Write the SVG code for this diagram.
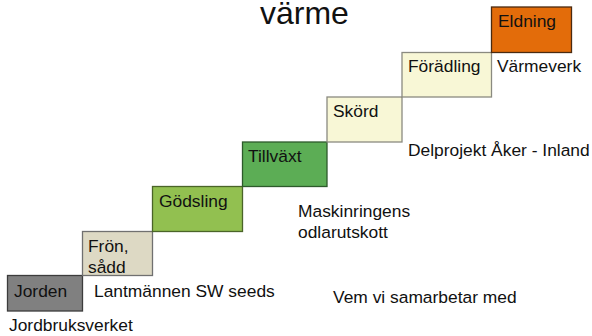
<svg xmlns="http://www.w3.org/2000/svg" width="592" height="336" viewBox="0 0 592 336">
<style>
text{font-family:"Liberation Sans",Arial,sans-serif;font-size:17.4px;fill:#111}
.box{stroke-width:1.3}
.title{font-size:32px}
</style>
<rect width="592" height="336" fill="#fff"/>
<text class="title" x="260" y="23.5">värme</text>
<g id="jorden"><rect class="box" x="7.5" y="275.5" width="75" height="35.5" fill="#808080" stroke="#3c3c3c"/><text x="14" y="297">Jorden</text></g>
<g id="fron"><rect class="box" x="82.5" y="231.5" width="70" height="44" fill="#DDD9C4" stroke="#707070"/><text x="88" y="252">Frön,</text><text x="88" y="272.5">sådd</text></g>
<g id="godsling"><rect class="box" x="152.5" y="186.5" width="90" height="45" fill="#92C050" stroke="#4a6428"/><text x="159" y="207">Gödsling</text></g>
<g id="tillvaxt"><rect class="box" x="242.5" y="142" width="84.5" height="44.5" fill="#5CAD55" stroke="#2d5a2b"/><text x="248" y="161.5">Tillväxt</text></g>
<g id="skord"><rect class="box" x="327" y="97" width="75" height="45" fill="#F8F7D6" stroke="#8a8a80"/><text x="333" y="116.5">Skörd</text></g>
<g id="foradling"><rect class="box" x="402" y="52.5" width="89.5" height="44.5" fill="#F8F7D6" stroke="#8a8a80"/><text x="408" y="72">Förädling</text></g>
<g id="eldning"><rect class="box" x="491.5" y="7" width="80" height="45.5" fill="#E36C0A" stroke="#4a2a10"/><text x="498" y="27">Eldning</text></g>
<g id="labels">
<text x="497" y="72">Värmeverk</text>
<text x="408" y="156">Delprojekt Åker - Inland</text>
<text x="298" y="217">Maskinringens</text>
<text x="298" y="238">odlarutskott</text>
<text x="94" y="297">Lantmännen SW seeds</text>
<text x="333" y="302.5">Vem vi samarbetar med</text>
<text x="9" y="331">Jordbruksverket</text>
</g>
<g id="connectors"></g>
</svg>
